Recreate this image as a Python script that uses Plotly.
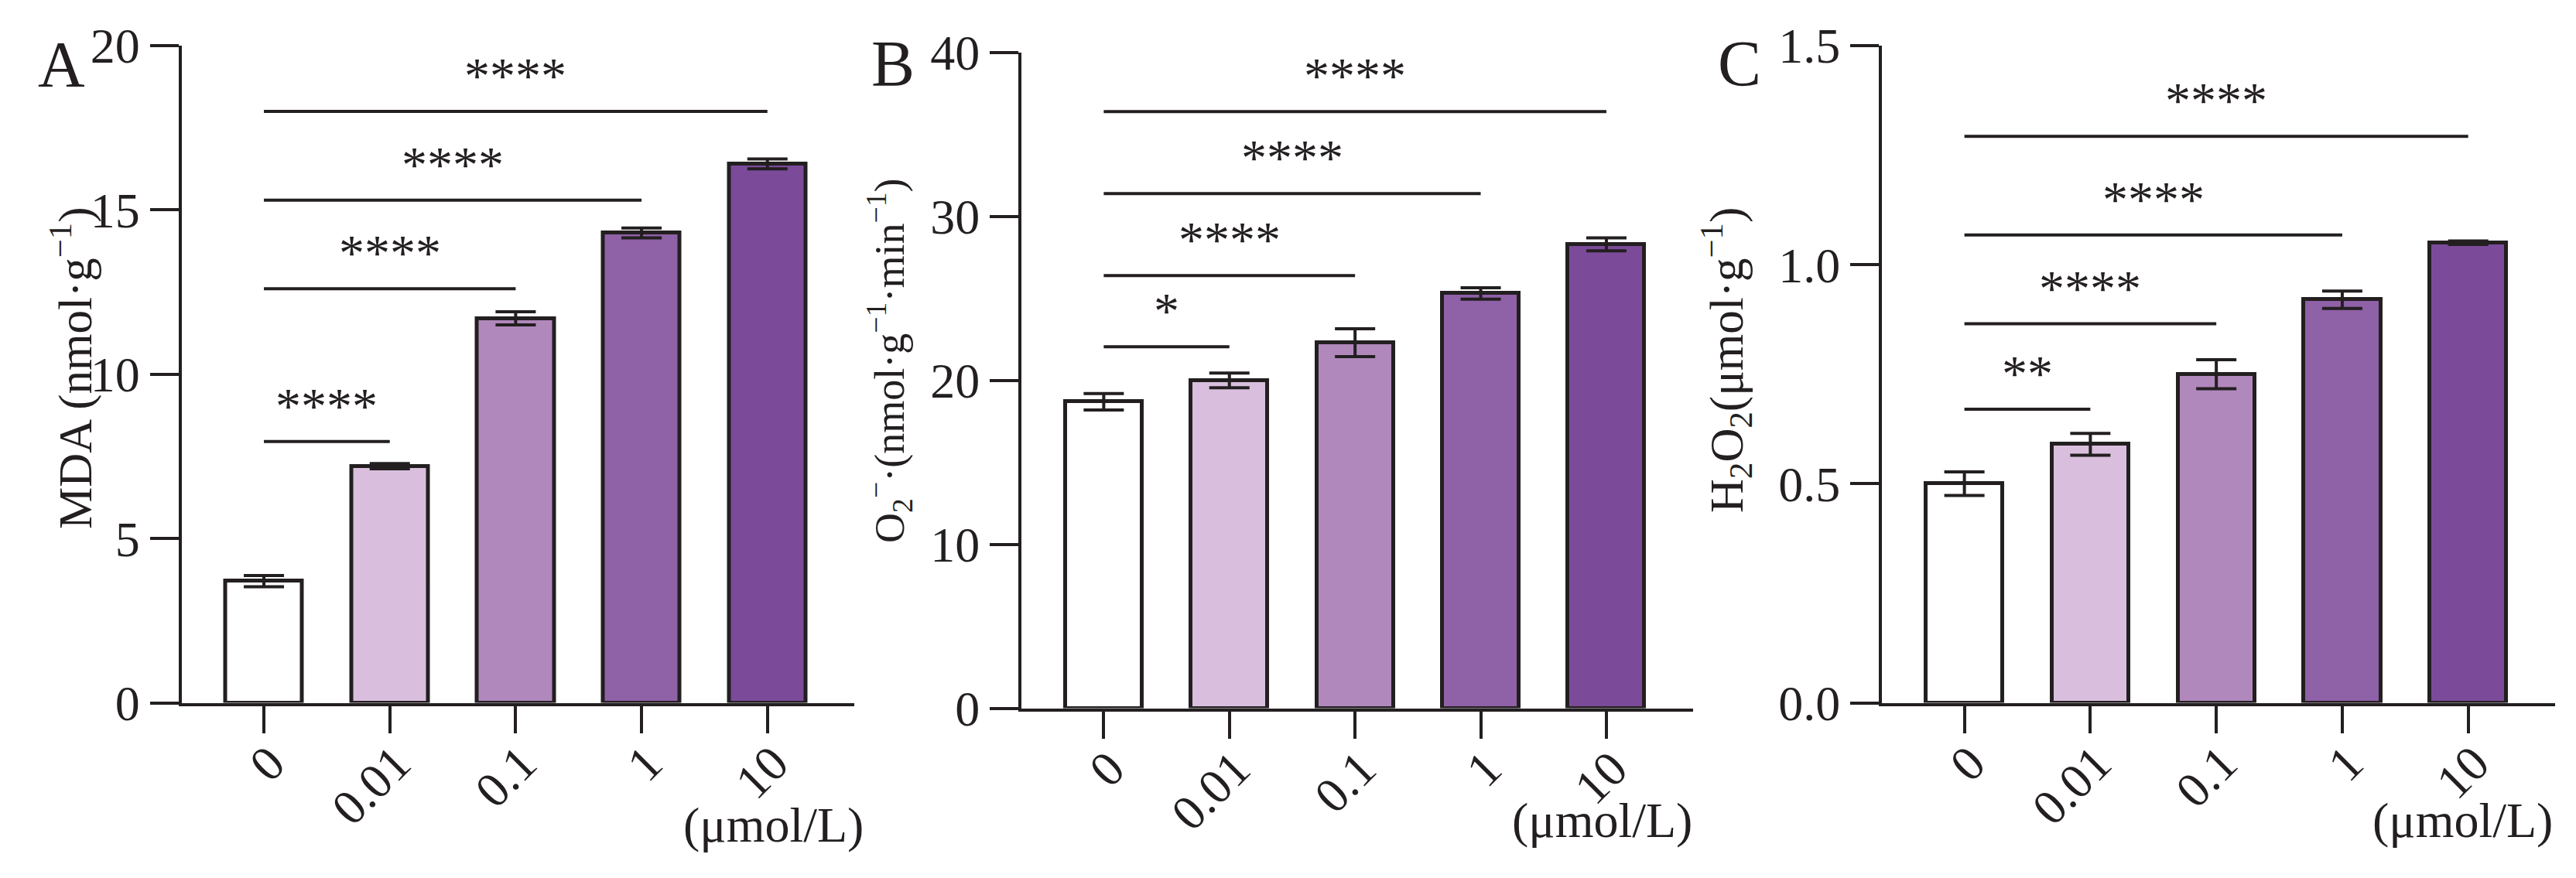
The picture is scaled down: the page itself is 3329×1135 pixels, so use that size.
import plotly.graph_objects as go

# ---------------- data ----------------
categories = ["0", "0.01", "0.1", "1", "10"]

mda_mean = [3.7, 7.2, 11.7, 14.3, 16.4]
mda_err = [0.17, 0.08, 0.2, 0.15, 0.15]

o2_mean = [18.7, 20.0, 22.3, 25.3, 28.3]
o2_err = [0.5, 0.45, 0.85, 0.35, 0.4]

h2o2_mean = [0.50, 0.59, 0.75, 0.92, 1.05]
h2o2_err = [0.027, 0.025, 0.033, 0.02, 0.004]

# significance brackets: compared group index (vs group 0), bracket height, label
sig_A_groups = [1, 2, 3, 4]
sig_A_heights = [7.95, 12.6, 15.3, 18.0]
sig_A_labels = ["****", "****", "****", "****"]

sig_B_groups = [1, 2, 3, 4]
sig_B_heights = [22.05, 26.4, 31.4, 36.4]
sig_B_labels = ["*", "****", "****", "****"]

sig_C_groups = [1, 2, 3, 4]
sig_C_heights = [0.67, 0.865, 1.068, 1.293]
sig_C_labels = ["**", "****", "****", "****"]

ytick_A = [0, 5, 10, 15, 20]
ytick_B = [0, 10, 20, 30, 40]
ytick_C = [0.0, 0.5, 1.0, 1.5]

bar_colors = ["#ffffff", "#d9bfdd", "#b088bc", "#8f61a6", "#7b4b99"]
ink = "#231f20"
FONT = "Liberation Serif"

W, H = 3329, 1135

panels = [
    dict(mean=mda_mean, err=mda_err, groups=sig_A_groups, heights=sig_A_heights,
         labels=sig_A_labels, ticks=ytick_A, yrange=[0, 20], fmt="",
         xdom=[226.5 / W, 1096 / W], ydom=[(H - 900.5) / H, (H - 51) / H],
         title="MDA (nmol·g<sup>−1</sup>)", title_size=61, title_xy=(85, 468),
         letter="A", letter_xy=(71, 76), unit_xy=(991, 1058)),
    dict(mean=o2_mean, err=o2_err, groups=sig_B_groups, heights=sig_B_heights,
         labels=sig_B_labels, ticks=ytick_B, yrange=[0, 40], fmt="",
         xdom=[1312 / W, 2180 / W], ydom=[(H - 907.5) / H, (H - 60) / H],
         title="O<sub>2</sub><sup>−</sup>·(nmol·g<sup>−1</sup>·min<sup>−1</sup>)",
         title_size=54, title_xy=(1141, 458),
         letter="B", letter_xy=(1146, 75), unit_xy=(2062, 1052)),
    dict(mean=h2o2_mean, err=h2o2_err, groups=sig_C_groups, heights=sig_C_heights,
         labels=sig_C_labels, ticks=ytick_C, yrange=[0, 1.5], fmt=".1f",
         xdom=[2424 / W, 3294 / W], ydom=[(H - 900.5) / H, (H - 51) / H],
         title="H<sub>2</sub>O<sub>2</sub>(μmol·g<sup>−1</sup>)",
         title_size=61, title_xy=(2222, 458),
         letter="C", letter_xy=(2240, 75), unit_xy=(3174, 1052)),
]

fig = go.Figure()
shapes = []
annotations = []
xpos = list(range(len(categories)))

for i, p in enumerate(panels):
    n = "" if i == 0 else str(i + 1)
    xa, ya = "x" + n, "y" + n
    fig.add_trace(go.Bar(
        x=xpos, y=p["mean"], xaxis=xa, yaxis=ya, width=0.61,
        marker=dict(color=bar_colors, line=dict(color=ink, width=5)),
        error_y=dict(type="data", array=p["err"], visible=True,
                     color=ink, thickness=4, width=26),
        showlegend=False, hoverinfo="skip",
    ))
    axis_common = dict(showline=True, linecolor=ink, linewidth=4,
                       ticks="outside", tickcolor=ink, tickwidth=4,
                       showgrid=False, zeroline=False, automargin=False,
                       tickfont=dict(family=FONT, size=64, color=ink))
    fig.update_layout(**{
        "xaxis" + n: dict(domain=p["xdom"], anchor=ya, range=[-0.655, 4.69],
                          tickvals=xpos, ticktext=categories, tickangle=-45,
                          ticklen=35, ticklabelstandoff=-24, ticklabelshift=8,
                          fixedrange=True, **axis_common),
        "yaxis" + n: dict(domain=p["ydom"], anchor=xa, range=p["yrange"],
                          tickvals=p["ticks"], tickformat=p["fmt"],
                          ticklen=37, fixedrange=True, **axis_common),
    })
    # significance brackets
    for g, h, lab in zip(p["groups"], p["heights"], p["labels"]):
        shapes.append(dict(type="line", xref=xa, yref=ya, x0=0, x1=g, y0=h, y1=h,
                           line=dict(color=ink, width=4)))
        annotations.append(dict(xref=xa, yref=ya, x=g / 2, y=h, text=lab,
                                showarrow=False, xanchor="center", yanchor="bottom",
                                yshift=8, font=dict(family=FONT, size=66, color=ink)))
    # axis title
    annotations.append(dict(xref="paper", yref="paper",
                            x=p["title_xy"][0] / W, y=1 - p["title_xy"][1] / H,
                            text=p["title"], textangle=-90, showarrow=False,
                            xanchor="center", yanchor="middle",
                            font=dict(family=FONT, size=p["title_size"], color=ink)))
    # panel letter
    annotations.append(dict(xref="paper", yref="paper",
                            x=p["letter_xy"][0] / W, y=1 - p["letter_xy"][1] / H,
                            text=p["letter"], showarrow=False,
                            xanchor="center", yanchor="middle",
                            font=dict(family=FONT, size=84, color=ink)))
    # unit
    annotations.append(dict(xref="paper", yref="paper",
                            x=p["unit_xy"][0] / W, y=1 - p["unit_xy"][1] / H,
                            text="(μmol/L)", showarrow=False,
                            xanchor="center", yanchor="middle",
                            font=dict(family=FONT, size=64, color=ink)))

fig.update_layout(width=W, height=H, margin=dict(l=0, r=0, t=0, b=0, autoexpand=False),
                  paper_bgcolor="white", plot_bgcolor="white",
                  shapes=shapes, annotations=annotations, showlegend=False,
                  bargap=0)

fig.write_html("out.html")
